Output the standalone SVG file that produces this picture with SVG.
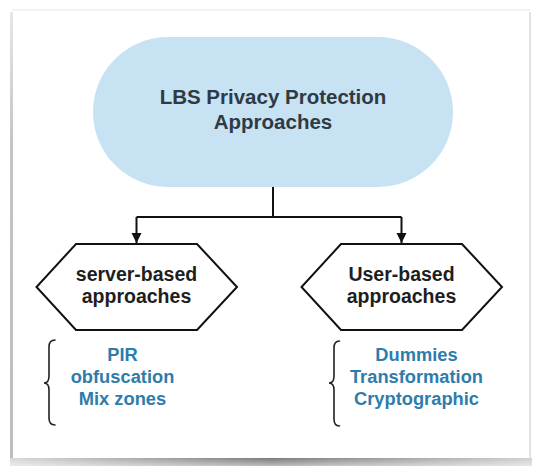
<svg xmlns="http://www.w3.org/2000/svg" width="535" height="466" viewBox="0 0 535 466">
  <defs>
    <style>
      .title { font-family: "Liberation Sans", Arial, sans-serif; font-weight: bold; font-size: 20.5px; fill: #2f3a44; text-anchor: middle; }
      .hex-label { font-family: "Liberation Sans", Arial, sans-serif; font-weight: bold; font-size: 19.5px; fill: #1e1e1e; text-anchor: middle; }
      .item { font-family: "Liberation Sans", Arial, sans-serif; font-weight: bold; font-size: 18.3px; fill: #2e7cab; text-anchor: middle; }
      .hex { fill: #ffffff; stroke: #111111; stroke-width: 2; stroke-linejoin: miter; }
      .conn { fill: none; stroke: #111111; stroke-width: 2; }
      .brace { fill: none; stroke: #222222; stroke-width: 1.6; stroke-linecap: round; }
    </style>
    <marker id="arrow" viewBox="0 0 10 11" refX="10" refY="5" markerWidth="10" markerHeight="11" markerUnits="userSpaceOnUse" orient="auto">
      <path d="M0,0 L10,5 L0,10 Z" fill="#111111"/>
    </marker>
    <linearGradient id="bottomShadow" x1="0" y1="0" x2="1" y2="0">
      <stop offset="0" stop-color="#d8d8d8"/>
      <stop offset="0.5" stop-color="#7a7a7a"/>
      <stop offset="1" stop-color="#d0d0d0"/>
    </linearGradient>
    <linearGradient id="bottomFade" x1="0" y1="0" x2="0" y2="1">
      <stop offset="0" stop-color="#ffffff" stop-opacity="0"/>
      <stop offset="1" stop-color="#ffffff" stop-opacity="0.5"/>
    </linearGradient>
    <linearGradient id="leftEdge" x1="0" y1="0" x2="0" y2="1">
      <stop offset="0" stop-color="#e6e6e6"/>
      <stop offset="0.3" stop-color="#c4c4c4"/>
      <stop offset="1" stop-color="#bdbdbd"/>
    </linearGradient>
  </defs>

  <!-- card background and shadow -->
  <g id="card">
    <rect x="0" y="0" width="535" height="466" fill="#ffffff"/>
    <rect x="12" y="9" width="518" height="1.5" fill="#eeeeee"/>
    <rect x="10" y="12" width="3" height="448" fill="url(#leftEdge)"/>
    <rect x="529" y="12" width="2" height="448" fill="#e4e4e4"/>
    <rect x="10" y="458" width="522" height="8" fill="url(#bottomShadow)"/>
    <rect x="10" y="458" width="522" height="8" fill="url(#bottomFade)"/>
  </g>

  <!-- connectors -->
  <g id="connectors">
    <path class="conn" d="M273,187 L273,217"/>
    <path class="conn" d="M136.5,217 L401.5,217"/>
    <path class="conn" d="M136.5,217 L136.5,243" marker-end="url(#arrow)"/>
    <path class="conn" d="M401.5,217 L401.5,243" marker-end="url(#arrow)"/>
  </g>

  <!-- root node -->
  <g id="node-root">
    <rect x="93" y="37" width="360" height="150" rx="75" ry="75" fill="#c6e2f3"/>
    <text class="title" x="273" y="104">LBS Privacy Protection</text>
    <text class="title" x="273" y="129">Approaches</text>
  </g>

  <!-- server-based node -->
  <g id="node-server">
    <polygon class="hex" points="76,244 197,244 237,287 197,330 76,330 36.5,287"/>
    <text class="hex-label" x="136.5" y="281">server-based</text>
    <text class="hex-label" x="136.5" y="303">approaches</text>
  </g>

  <!-- user-based node -->
  <g id="node-user">
    <polygon class="hex" points="341,244 462,244 502,287 462,330 341,330 301.5,287"/>
    <text class="hex-label" x="401.5" y="281">User-based</text>
    <text class="hex-label" x="401.5" y="303">approaches</text>
  </g>

  <!-- server-based items -->
  <g id="list-server">
    <path class="brace" d="M55,340 Q49,340 49,347 L49,376 Q49,383 44,383 Q49,383 49,390 L49,418 Q49,425 55,425"/>
    <text class="item" x="122.5" y="361">PIR</text>
    <text class="item" x="122.5" y="383">obfuscation</text>
    <text class="item" x="122.5" y="405">Mix zones</text>
  </g>

  <!-- user-based items -->
  <g id="list-user">
    <path class="brace" d="M339.5,341 Q334,341 334,348 L334,376 Q334,383 329,383 Q334,383 334,390 L334,419 Q334,426 339.5,426"/>
    <text class="item" x="416.5" y="361">Dummies</text>
    <text class="item" x="416.5" y="383">Transformation</text>
    <text class="item" x="416.5" y="405">Cryptographic</text>
  </g>
</svg>
